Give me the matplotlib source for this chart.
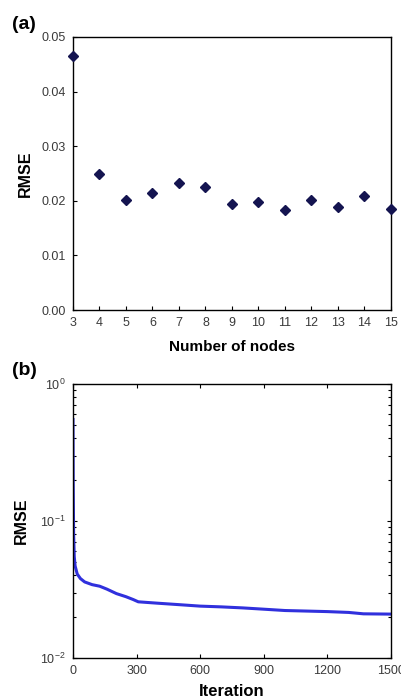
import numpy as np
import matplotlib.pyplot as plt
from matplotlib.ticker import LogLocator

plt.rcParams['font.family'] = ['Liberation Sans', 'DejaVu Sans']

# panel (a): RMSE vs number of nodes
nodes = [3, 4, 5, 6, 7, 8, 9, 10, 11, 12, 13, 14, 15]
rmse_nodes = [0.0466, 0.0249, 0.0201, 0.0214, 0.0233, 0.0225, 0.0195,
              0.0198, 0.0184, 0.0201, 0.0189, 0.0209, 0.0185]

# panel (b): RMSE vs iteration
iters = [0, 1, 3, 6, 10, 20, 35, 55, 90, 126, 160, 205, 250, 284, 308,
         400, 500, 600, 700, 800, 900, 1000, 1100, 1200, 1300, 1370, 1500]
rmse_iter = [0.55, 0.2, 0.08, 0.055, 0.047, 0.041, 0.038, 0.0359, 0.0343,
             0.0334, 0.0318, 0.0295, 0.028, 0.0267, 0.0257, 0.0251, 0.0245,
             0.0239, 0.0236, 0.0232, 0.0227, 0.0222, 0.022, 0.0218, 0.0215,
             0.0210, 0.0209]

fig = plt.figure(figsize=(4.01, 6.99), dpi=100)
tick_col = '#3a3a3a'

ax1 = fig.add_axes([0.182, 0.5565, 0.793, 0.3906])
ax1.plot(nodes, rmse_nodes, 'D', color='#141450', markersize=5.5, clip_on=False, zorder=5)
ax1.set_xlim(3, 15)
ax1.set_ylim(0, 0.05)
ax1.set_xticks(nodes)
ax1.set_yticks([0.0, 0.01, 0.02, 0.03, 0.04, 0.05])
ax1.set_yticklabels(['0.00', '0.01', '0.02', '0.03', '0.04', '0.05'])
ax1.tick_params(direction='in', length=3, labelsize=9, labelcolor=tick_col, width=0.8, pad=5)
ax1.set_xlabel('Number of nodes', fontsize=11, fontweight='bold', labelpad=8)
ax1.set_ylabel('RMSE', fontsize=11.5, fontweight='bold', labelpad=6)
for s in ax1.spines.values():
    s.set_linewidth(1.0)
fig.text(0.03, 0.958, '(a)', fontsize=14, fontweight='bold')

ax2 = fig.add_axes([0.182, 0.0587, 0.793, 0.392])
ax2.semilogy(iters, rmse_iter, color='#3030dd', linewidth=2.2)
ax2.set_xlim(0, 1500)
ax2.set_ylim(1e-2, 1e0)
ax2.set_xticks([0, 300, 600, 900, 1200, 1500])
ax2.yaxis.set_minor_locator(LogLocator(base=10, subs=np.arange(2, 10)))
ax2.tick_params(which='both', direction='in', top=True, right=True,
                labelsize=9, labelcolor=tick_col, width=0.8, pad=5)
ax2.tick_params(which='major', length=3)
ax2.tick_params(which='minor', length=2)
ax2.set_xlabel('Iteration', fontsize=12, fontweight='bold', labelpad=5)
ax2.set_ylabel('RMSE', fontsize=11.5, fontweight='bold', labelpad=8)
for s in ax2.spines.values():
    s.set_linewidth(1.0)
fig.text(0.03, 0.463, '(b)', fontsize=14, fontweight='bold')

fig.savefig('out.png', dpi=100)
